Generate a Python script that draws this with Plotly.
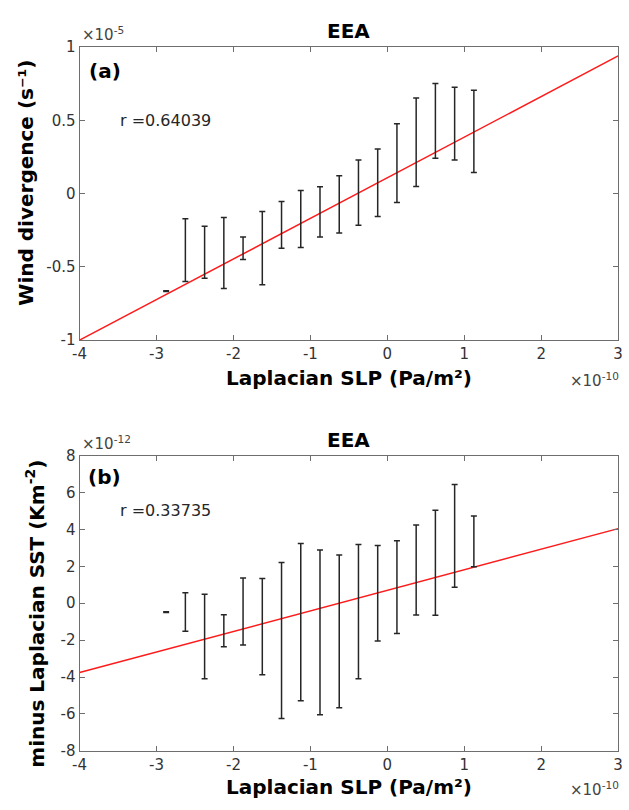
import plotly.graph_objects as go

# ---------------- data (display units: x in 1e-10, a in 1e-5, b in 1e-12) -------------
bin_x = [-2.875, -2.625, -2.375, -2.125, -1.875, -1.625, -1.375, -1.125, -0.875,
         -0.625, -0.375, -0.125, 0.125, 0.375, 0.625, 0.875, 1.125]

a_low = [-0.667, -0.600, -0.578, -0.647, -0.449, -0.622, -0.373, -0.367, -0.296,
         -0.269, -0.216, -0.156, -0.060, 0.049, 0.241, 0.229, 0.145]
a_high = [-0.663, -0.171, -0.222, -0.162, -0.296, -0.122, -0.053, 0.022, 0.047,
          0.122, 0.229, 0.305, 0.477, 0.653, 0.751, 0.726, 0.706]
a_fit_x = [-4, 3]
a_fit_y = [-1.0, 0.94]

b_low = [-0.51, -1.52, -4.09, -2.36, -2.26, -3.88, -6.25, -5.29, -6.05,
         -5.67, -4.09, -2.05, -1.64, -0.64, -0.65, 0.86, 1.98]
b_high = [-0.47, 0.56, 0.48, -0.62, 1.37, 1.34, 2.20, 3.23, 2.88,
          2.61, 3.18, 3.12, 3.39, 4.24, 5.03, 6.43, 4.73]
b_fit_x = [-4, 3]
b_fit_y = [-3.76, 4.04]

x_ticks = [-4, -3, -2, -1, 0, 1, 2, 3]
x_ticklabels = ["-4", "-3", "-2", "-1", "0", "1", "2", "3"]
a_yticks = [-1, -0.5, 0, 0.5, 1]
a_yticklabels = ["-1", "-0.5", "0", "0.5", "1"]
b_yticks = [-8, -6, -4, -2, 0, 2, 4, 6, 8]
b_yticklabels = ["-8", "-6", "-4", "-2", "0", "2", "4", "6", "8"]

r_a = "r =0.64039"
r_b = "r =0.33735"

# ---------------- figure ----------------
W, H = 629, 810


def px(x):
    return x / W


def py(y):
    return 1 - y / H


BAR = "#262626"
AX = "#6e6e6e"
TXT = "#333333"
FONT = "DejaVu Sans"

fig = go.Figure()


def add_panel(low, high, fx, fy, xa, ya):
    center = [(l + h) / 2 for l, h in zip(low, high)]
    up = [h - c for h, c in zip(high, center)]
    dn = [c - l for l, c in zip(low, center)]
    fig.add_trace(go.Scatter(
        x=fx, y=fy, mode="lines", line=dict(color="#ff1a1a", width=1.5),
        xaxis=xa, yaxis=ya, showlegend=False, hoverinfo="skip"))
    fig.add_trace(go.Scatter(
        x=bin_x, y=center, mode="markers",
        marker=dict(size=2, color="rgba(0,0,0,0)"),
        error_y=dict(type="data", symmetric=False, array=up, arrayminus=dn,
                     color=BAR, thickness=1.5, width=3),
        xaxis=xa, yaxis=ya, showlegend=False))


add_panel(a_low, a_high, a_fit_x, a_fit_y, "x", "y")
add_panel(b_low, b_high, b_fit_x, b_fit_y, "x2", "y2")

xdom = [px(74), px(623)]
a_ydom = [py(338.7), py(39)]
b_ydom = [py(758.7), py(456.7)]

axis_common = dict(showline=True, linecolor=AX, linewidth=1, mirror="ticks",
                   ticks="inside", ticklen=5, tickcolor=AX, tickwidth=1,
                   showgrid=False, zeroline=False, ticklabeloverflow="allow",
                   tickfont=dict(family=FONT, size=15, color=TXT))

fig.update_layout(
    width=W, height=H, margin=dict(l=0, r=0, t=0, b=0),
    paper_bgcolor="white", plot_bgcolor="white",
    xaxis=dict(domain=xdom, range=[-4, 3], anchor="y", tickmode="array",
               tickvals=x_ticks, ticktext=x_ticklabels, **axis_common),
    yaxis=dict(domain=a_ydom, range=[-1, 1], anchor="x", tickmode="array",
               tickvals=a_yticks, ticktext=a_yticklabels, **axis_common),
    xaxis2=dict(domain=xdom, range=[-4, 3], anchor="y2", tickmode="array",
                tickvals=x_ticks, ticktext=x_ticklabels, **axis_common),
    yaxis2=dict(domain=b_ydom, range=[-8, 8], anchor="x2", tickmode="array",
                tickvals=b_yticks, ticktext=b_yticklabels, **axis_common),
)

bold = dict(family=FONT, size=20, color="#000000", weight="bold")
small = dict(family=FONT, size=15, color="#444444")
ann = []


def paper_text(text, x, y, font, xanchor="center", yanchor="middle", angle=0):
    ann.append(dict(text=text, x=px(x), y=py(y), xref="paper", yref="paper",
                    xanchor=xanchor, yanchor=yanchor, showarrow=False,
                    font=font, textangle=angle))


# Panel (a)
paper_text("EEA", 348.5, 23, bold)
paper_text("×10<sup>-5</sup>", 74, 38, small, xanchor="left", yanchor="bottom")
paper_text("Laplacian SLP (Pa/m²)", 349, 377, bold)
paper_text("×10<sup>-10</sup>", 626, 392, small, xanchor="right", yanchor="bottom")
paper_text("Wind divergence (s⁻¹)", 19, 178, bold, angle=-90)

# Panel (b)
paper_text("EEA", 348.5, 441, bold)
paper_text("×10<sup>-12</sup>", 74, 456, small, xanchor="left", yanchor="bottom")
paper_text("Laplacian SLP (Pa/m²)", 349, 796, bold)
paper_text("×10<sup>-10</sup>", 626, 810, small, xanchor="right", yanchor="bottom")
paper_text("minus Laplacian SST (Km<sup>-2</sup>)", 29, 618, bold, angle=-90)

# in-axes text (data coordinates)
ann.append(dict(text="(a)", x=-3.90, y=0.835, xref="x", yref="y", xanchor="left",
                yanchor="middle", showarrow=False, font=bold))
ann.append(dict(text=r_a, x=-3.50, y=0.5, xref="x", yref="y", xanchor="left",
                yanchor="middle", showarrow=False,
                font=dict(family=FONT, size=16, color="#262626")))
ann.append(dict(text="(b)", x=-3.92, y=6.85, xref="x2", yref="y2", xanchor="left",
                yanchor="middle", showarrow=False, font=bold))
ann.append(dict(text=r_b, x=-3.50, y=5.0, xref="x2", yref="y2", xanchor="left",
                yanchor="middle", showarrow=False,
                font=dict(family=FONT, size=16, color="#262626")))

fig.update_layout(annotations=ann)
fig.write_html(
    "out.html",
    config={"displayModeBar": False},
    post_script="document.body.style.margin='0px';document.body.style.overflow='hidden';",
)
